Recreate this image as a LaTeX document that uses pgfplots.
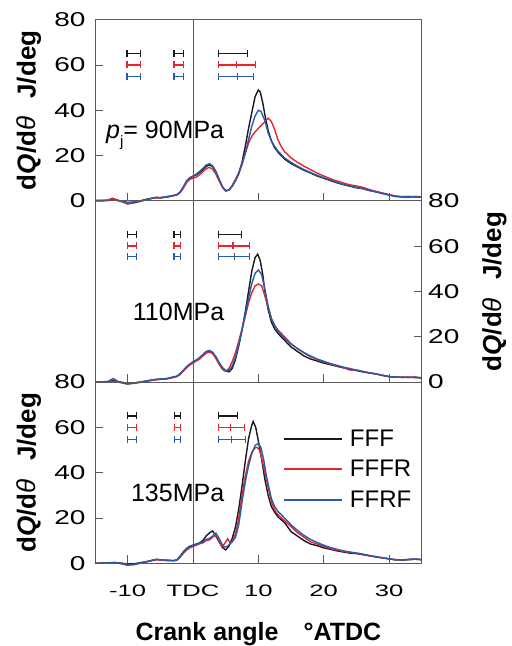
\documentclass[border=0pt]{standalone}
\usepackage{fontspec}
\setmainfont{Liberation Sans}
\usepackage{graphicx}
\usepackage{pgfplots}
\pgfplotsset{compat=1.18}

\definecolor{cFFF}{RGB}{25,25,25}
\definecolor{cFFFR}{RGB}{232,36,44}
\definecolor{cFFRF}{RGB}{40,92,170}
\definecolor{axgray}{RGB}{90,90,90}

% wide tick digits, as in the reference
\newcommand{\sy}[1]{\scalebox{1.4}[1]{#1}}
\newcommand{\sxx}[1]{\scalebox{1.55}[1]{#1}}
\newcommand{\ylab}{\textbf{d\textit{Q}/d}{\itshape θ}\hspace{0.7em}\textbf{J/deg}}

\pgfplotsset{
  panel/.style={
    anchor=south west, scale only axis,
    width=326.7bp, height=181.2bp,
    xmin=-15, xmax=35, ymin=0, ymax=80, clip=false,
    xtick={-10,0,10,20,30}, ytick={0,20,40,60,80},
    xtick pos=bottom,
    axis line style={axgray, line width=0.9bp},
    major tick style={axgray, line width=0.9bp},
    major tick length=8bp,
    yticklabels={\sy{0},\sy{20},\sy{40},\sy{60},\sy{80}},
    yticklabel style={font=\fontsize{20bp}{24bp}\selectfont},
    ylabel style={font=\fontsize{26bp}{30bp}\selectfont, anchor=center},
  },
  leftpanel/.style={ytick pos=left, yticklabel style={anchor=east, xshift=-6bp},
    ylabel={\ylab}, ylabel style={at={(rel axis cs:-0.202,0.5)}}},
  rightpanel/.style={ytick pos=right, yticklabel pos=right,
    yticklabel style={anchor=west, xshift=3bp},
    ylabel={\ylab}, ylabel style={at={(rel axis cs:1.223,0.5)}}},
  hrr/.style={line width=1.4bp},
  inj/.style={line width=1.3bp, mark=|, mark size=3.5bp, mark options={solid},
    unbounded coords=jump, forget plot},
}

\begin{document}
\begin{tikzpicture}
\useasboundingbox (0,0) rectangle (512bp,646bp);

% ---------------- 90 MPa ----------------
\begin{axis}[panel, leftpanel, at={(95bp,445.1bp)}, xticklabels=\empty]
\draw[axgray, line width=0.9bp] (axis cs:0,0) -- (axis cs:0,80);
\addplot[hrr, cFFF] coordinates {
 (-15,0.2) (-14,0.2) (-13,0.3) (-12.3,0.9) (-11.5,0.3) (-10.5,-0.4) (-10,-0.7) (-9,-0.5)
 (-8,0.1) (-7,0.8) (-6,1.3) (-5.5,1.6) (-5,1.3) (-4,1.8) (-3,2.3) (-2.5,2.6) (-2,3.8)
 (-1.5,6) (-1,8.5) (-0.5,10) (0,10.8) (0.5,11.5) (1,12.5) (1.5,13.8) (2,15.2) (2.5,15.9)
 (3,15.2) (3.5,12.8) (4,9.5) (4.5,6.3) (5,4.5) (5.5,4.8) (6,6.5) (6.5,9) (7,12) (7.5,17)
 (8,24) (8.5,32) (9,39) (9.5,46) (10,49) (10.3,48) (10.7,43) (11,38) (11.5,31) (12,26.5)
 (12.5,23.5) (13,21.5) (14,18.5) (15,16.5) (16,15) (17,13.5) (18,12.3) (19,11) (20,10)
 (21,9) (22,8) (23,7.2) (24,6.5) (25,5.8) (26,5.4) (27,4.6) (28,4) (29,3.3) (30,2.6)
 (31,2.1) (32,1.9) (33,1.9) (34,1.7) (35,1.7)
};
\addplot[hrr, cFFFR] coordinates {
 (-15,0) (-14,0.1) (-13,0.4) (-12.3,1.2) (-11.5,0.2) (-10.5,-0.8) (-10,-1.4) (-9,-0.9)
 (-8,-0.2) (-7,0.6) (-6,1.2) (-5,1.4) (-4,1.6) (-3,2.3) (-2.5,2.8) (-2,3.5) (-1.5,5.5)
 (-1,8) (-0.5,9.5) (0,10) (0.5,10.5) (1,11.5) (1.5,12.8) (2,14.2) (2.5,14.8) (3,14)
 (3.5,11.8) (4,8.8) (4.5,6) (5,4.3) (5.5,4.8) (6,6.8) (6.5,9.5) (7,12.5) (7.5,16.5)
 (8,21) (8.5,25.5) (9,28.5) (9.5,30.5) (10,32) (10.5,33.5) (11,35) (11.5,36.5) (12,35)
 (12.5,31.5) (13,27) (13.5,24) (14,21.8) (15,19) (16,17) (17,15.3) (18,13.8) (19,12.3)
 (20,11) (21,9.8) (22,8.8) (23,7.9) (24,7.1) (25,6.6) (26,6) (27,5) (28,4.2) (29,3.5)
 (30,2.8) (31,2.2) (32,1.6) (33,1.5) (34,2) (35,1.8)
};
\addplot[hrr, cFFRF] coordinates {
 (-15,0.1) (-14,0) (-13,0.1) (-12.3,0.5) (-11.5,0.1) (-10.5,-0.5) (-10,-0.9) (-9,-0.6)
 (-8,-0.1) (-7,0.7) (-6,1.4) (-5,1.5) (-4,1.9) (-3,2.4) (-2.5,2.6) (-2,3.7) (-1.5,6)
 (-1,8.8) (-0.5,10.3) (0,11) (0.5,11.8) (1,13) (1.5,14.3) (2,15.8) (2.5,16.4) (3,15.5)
 (3.5,13) (4,9.5) (4.5,6.2) (5,4.5) (5.5,4.8) (6,6.5) (6.5,9) (7,12) (7.5,16) (8,21)
 (8.5,27) (9,33) (9.5,37.5) (10,40) (10.4,39.5) (11,35.5) (11.5,30) (12,26.5) (12.5,24)
 (13,22) (14,19) (15,17) (16,15.3) (17,13.8) (18,12.5) (19,11.3) (20,10.2) (21,9.2)
 (22,8.2) (23,7.3) (24,6.6) (25,6) (26,5.4) (27,4.6) (28,4) (29,3.3) (30,2.6) (31,1.9)
 (32,1.8) (33,1.9) (34,1.8) (35,1.6)
};
\addplot[inj, cFFF] coordinates {(-10.1,65) (-8,65) (0,nan) (-2.9,65) (-1.5,65) (0,nan) (3.9,65) (8.3,65)};
\addplot[inj, cFFFR] coordinates {(-10.1,60) (-8,60) (0,nan) (-2.9,60) (-1.5,60) (0,nan) (3.9,60) (6.7,60) (9.6,60)};
\addplot[inj, cFFRF] coordinates {(-10.1,55) (-8,55) (0,nan) (-2.9,55) (-1.5,55) (0,nan) (3.9,55) (6.8,55) (9.3,55)};
\node[anchor=base east, inner sep=0pt, font=\fontsize{25bp}{30bp}\selectfont]
  at (axis cs:4.8,27.6) {\textit{p}\raisebox{-0.32em}{\fontsize{15bp}{15bp}\selectfont j}= 90MPa};
\end{axis}

% ---------------- 110 MPa ----------------
\begin{axis}[panel, rightpanel, at={(95bp,263.9bp)}, xticklabels=\empty]
\draw[axgray, line width=0.9bp] (axis cs:0,0) -- (axis cs:0,80);
\addplot[hrr, cFFF] coordinates {
 (-15,0) (-14,0) (-13,0.2) (-12.2,0.8) (-11.5,0.2) (-10.5,-0.3) (-10,-0.5) (-9,-0.4)
 (-8,0) (-7,0.5) (-6,1) (-5,1.3) (-4,1.5) (-3,2.2) (-2.5,2.4) (-2,3.5) (-1.5,5) (-1,6.5)
 (-0.5,7.8) (0,8.8) (0.5,9.6) (1,10.5) (1.5,12) (2,13.3) (2.5,13.8) (3,13) (3.5,11)
 (4,8.5) (4.5,6.3) (5,5) (5.5,4.5) (6,6) (6.5,10) (7,16) (7.5,23) (8,31) (8.5,40)
 (9,49) (9.5,55) (9.9,56.5) (10.3,53.5) (10.7,47) (11,40) (11.5,32) (12,26.5) (12.5,23.5)
 (13,21.5) (14,18.5) (15,15.5) (16,13.5) (17,11.5) (18,10.2) (19,9.3) (20,8.4) (21,7.7)
 (22,7) (23,6.3) (24,5.7) (25,5.1) (26,4.5) (27,4) (28,3.6) (29,3) (30,2.4) (31,2.2)
 (32,2.1) (33,2.1) (34,2.2) (35,1.9)
};
\addplot[hrr, cFFFR] coordinates {
 (-15,0.1) (-14,0) (-13,0.1) (-12.2,0.4) (-11.5,0) (-10.5,-0.6) (-10,-0.9) (-9,-0.5)
 (-8,-0.1) (-7,0.4) (-6,0.9) (-5,1.2) (-4,1.4) (-3,2) (-2.5,2.5) (-2,3.3) (-1.5,4.8)
 (-1,6.3) (-0.5,7.5) (0,8.4) (0.5,9.3) (1,10.2) (1.5,11.5) (2,12.7) (2.5,13.3) (3,12.6)
 (3.5,10.5) (4,7.8) (4.5,5.6) (5,4.7) (5.5,6) (6,9) (6.5,13) (7,18) (7.5,23.5) (8,29)
 (8.5,35) (9,39.5) (9.5,42.5) (10,43.3) (10.5,42.5) (11,38) (11.5,33) (12,28) (12.5,25)
 (13,23) (14,20) (15,17) (16,14.7) (17,12.8) (18,11.2) (19,10) (20,9) (21,8) (22,7.2)
 (23,6.5) (24,5.3) (25,5.4) (26,4.6) (27,4.1) (28,3.6) (29,2.9) (30,2.4) (31,2.2)
 (32,2.1) (33,2.2) (34,2) (35,1.8)
};
\addplot[hrr, cFFRF] coordinates {
 (-15,0) (-14,0.1) (-13,0.3) (-12.2,1.6) (-11.5,0.3) (-10.5,-0.5) (-10,-0.8) (-9,-0.4)
 (-8,0.1) (-7,0.6) (-6,1.1) (-5,1.4) (-4,1.6) (-3,2.3) (-2.5,2.6) (-2,3.7) (-1.5,5.2)
 (-1,6.8) (-0.5,8) (0,9) (0.5,9.8) (1,10.8) (1.5,12.2) (2,13.5) (2.5,14) (3,13.2)
 (3.5,11.2) (4,8.6) (4.5,6.4) (5,5) (5.5,5.2) (6,7) (6.5,11) (7,16.5) (7.5,23) (8,30)
 (8.5,37) (9,43.5) (9.5,48) (10,49.5) (10.5,47.5) (11,41) (11.5,33.5) (12,28) (12.5,25)
 (13,22.5) (14,19.5) (15,16.8) (16,14.8) (17,13) (18,11.5) (19,10.2) (20,9.2) (21,8.2)
 (22,7.4) (23,6.6) (24,6) (25,5.3) (26,4.7) (27,4.1) (28,3.6) (29,3) (30,2.5) (31,2.2)
 (32,2.2) (33,2.1) (34,2) (35,1.9)
};
\addplot[inj, cFFF] coordinates {(-10,65.3) (-8.6,65.3) (0,nan) (-2.9,65.3) (-1.9,65.3) (0,nan) (3.9,65.3) (7.4,65.3)};
\addplot[inj, cFFFR] coordinates {(-10,60.1) (-8.6,60.1) (0,nan) (-2.9,60.1) (-1.9,60.1) (0,nan) (3.9,60.1) (6.1,60.1) (8.6,60.1)};
\addplot[inj, cFFRF] coordinates {(-10,55.3) (-8.6,55.3) (0,nan) (-2.9,55.3) (-1.9,55.3) (0,nan) (3.9,55.3) (6.3,55.3) (8.6,55.3)};
\node[anchor=base east, inner sep=0pt, font=\fontsize{25bp}{30bp}\selectfont]
  at (axis cs:4.8,27) {110MPa};
\end{axis}

% ---------------- 135 MPa ----------------
\begin{axis}[panel, leftpanel, at={(95bp,82.7bp)},
  xticklabels={\sxx{-10},\sxx{TDC},\sxx{10},\sxx{20},\sxx{30}},
  xticklabel style={font=\fontsize{16.5bp}{20bp}\selectfont, anchor=base, yshift=-33.4bp},
  xlabel={\textbf{Crank angle\hspace{1em}°ATDC}},
  xlabel style={font=\fontsize{25bp}{30bp}\selectfont, at={(rel axis cs:0.5,0)}, anchor=base, yshift=-76.7bp},
  legend style={at={(rel axis cs:0.575,0.75)}, anchor=north west, draw=none, fill=none,
    font=\fontsize{24bp}{28bp}\selectfont, row sep=8.5bp, column sep=5bp, inner sep=0pt,
    cells={anchor=west}},
  legend image code/.code={\draw[#1, line width=1.9bp] (0bp,0bp) -- (58bp,0bp);},
]
\draw[axgray, line width=0.9bp] (axis cs:0,0) -- (axis cs:0,80);
\addplot[hrr, cFFF] coordinates {
 (-15,0) (-13,0.1) (-12,0.3) (-11,0.1) (-10,-0.3) (-9,-0.2) (-8,0.3) (-7,0.8) (-6,1.5)
 (-5.5,1.7) (-5,1.5) (-4,1.3) (-3,1.2) (-2.5,1.5) (-2,3) (-1.5,5) (-1,6.5) (-0.5,7.5)
 (0,8) (0.5,8.5) (1,9) (1.5,10) (2,12) (2.5,13.4) (3,14.3) (3.5,12) (4,9.5) (4.5,7)
 (5,5.9) (5.5,7.5) (6,11) (6.5,16) (7,24) (7.5,34) (8,45) (8.5,55) (9,61) (9.2,62.6)
 (9.6,60) (10,54) (10.5,46) (11,37) (11.5,30) (12,25) (12.5,22.5) (13,20.5) (14,18)
 (15,14) (16,12) (17,10) (18,8.5) (19,7.8) (20,6.8) (21,6.2) (22,5.5) (23,5) (24,4.5)
 (25,4.3) (26,3.8) (27,3.3) (28,2.8) (29,2.4) (30,2) (31,1.5) (32,1.4) (33,1.6) (34,1.8)
 (35,1.6)
};
\addplot[hrr, cFFFR] coordinates {
 (-15,0) (-13,0) (-12,0.2) (-11,0) (-10,-0.5) (-9,-0.6) (-8,0.1) (-7,0.7) (-6,1.3)
 (-5.5,1.6) (-5,1.4) (-4,1.2) (-3,1.1) (-2.5,1.3) (-2,2.6) (-1.5,4.3) (-1,5.8) (-0.5,6.8)
 (0,7.4) (0.5,8) (1,8.6) (1.5,9) (2,10) (2.5,10.3) (3,11.5) (3.5,12.5) (4,10) (4.4,7.4)
 (4.8,8.5) (5.3,10.8) (5.7,9) (6,9.5) (6.5,13) (7,20) (7.5,30) (8,38.5) (8.5,45) (9,49)
 (9.5,51) (9.8,51.2) (10.2,50) (10.7,44) (11,40) (11.5,33.5) (12,27) (12.5,23.5)
 (13,21.5) (14,18.8) (15,16.2) (16,13.5) (17,11.5) (18,9.5) (19,8.5) (20,7.5) (21,6.5)
 (22,5.8) (23,5.3) (24,4.8) (25,4.5) (26,4) (27,3.4) (28,2.9) (29,2.4) (30,2) (31,1.6)
 (32,1.5) (33,1.7) (34,1.8) (35,1.6)
};
\addplot[hrr, cFFRF] coordinates {
 (-15,0) (-13,0.2) (-12,0.4) (-11,-0.2) (-10,-0.9) (-9,-0.5) (-8,0.2) (-7,0.8) (-6,1.5)
 (-5.5,1.8) (-5,1.5) (-4,1.4) (-3,1.2) (-2.5,1.4) (-2,2.8) (-1.5,4.8) (-1,6.3) (-0.5,7.3)
 (0,7.8) (0.5,8.3) (1,8.8) (1.5,9.3) (2,10.5) (2.5,11) (3,12) (3.5,13.3) (4,11) (4.5,8)
 (4.8,7.2) (5.3,7.5) (6,9.5) (6.5,11.5) (7,17) (7.5,27) (8,36) (8.5,43) (9,48.5)
 (9.5,52) (10,53) (10.4,51) (10.8,46) (11.2,39) (11.5,35) (12,28.5) (12.5,25) (13,23)
 (14,20) (15,17) (16,14.5) (17,12.3) (18,10.5) (19,9.2) (20,8) (21,7) (22,6.2) (23,5.5)
 (24,5) (25,4.5) (26,4) (27,3.4) (28,2.9) (29,2.4) (30,1.9) (31,1.6) (32,1.5) (33,1.7)
 (34,1.9) (35,1.7)
};
\addplot[inj, cFFF] coordinates {(-10,65.1) (-8.6,65.1) (0,nan) (-2.8,65.1) (-1.9,65.1) (0,nan) (3.9,65.1) (6.8,65.1)};
\addplot[inj, cFFFR] coordinates {(-10,60.1) (-8.6,60.1) (0,nan) (-2.8,60.1) (-1.9,60.1) (0,nan) (3.9,60.1) (5.7,60.1) (7.9,60.1)};
\addplot[inj, cFFRF] coordinates {(-10,54.8) (-8.6,54.8) (0,nan) (-2.8,54.8) (-1.9,54.8) (0,nan) (3.9,54.8) (5.9,54.8) (8,54.8)};
\node[anchor=base east, inner sep=0pt, font=\fontsize{25bp}{30bp}\selectfont]
  at (axis cs:4.8,27.2) {135MPa};
\legend{FFF,FFFR,FFRF}
\end{axis}
\end{tikzpicture}
\end{document}
